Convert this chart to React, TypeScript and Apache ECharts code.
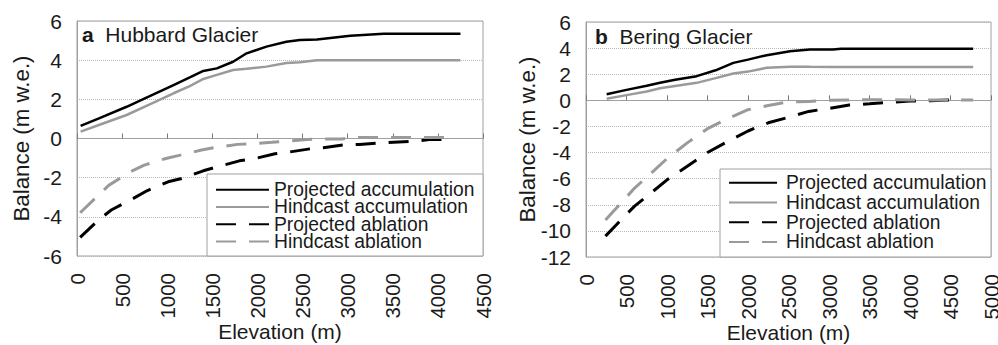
import React, { useEffect, useRef } from "react";
import * as echarts from "echarts";

// ---------- Data ----------
const seriesNames = [
  "Projected accumulation",
  "Hindcast accumulation",
  "Projected ablation",
  "Hindcast ablation",
];

// (a) Hubbard Glacier
const hubbardAccElev = [40, 250, 550, 800, 1070, 1250, 1400, 1550, 1730, 1880, 2100, 2320, 2470, 2660, 3030, 3400, 4250];
const hubbardProjAcc = [0.64, 1.04, 1.62, 2.15, 2.73, 3.12, 3.45, 3.58, 3.92, 4.35, 4.69, 4.94, 5.03, 5.06, 5.25, 5.35, 5.35];
const hubbardHindAcc = [0.35, 0.7, 1.2, 1.73, 2.31, 2.68, 3.04, 3.25, 3.5, 3.56, 3.67, 3.85, 3.89, 3.99, 4.0, 4.0, 4.0];

const hubbardProjAblElev = [35, 230, 380, 625, 775, 1010, 1160, 1400, 1560, 1800, 1955, 2195, 2340, 2580, 2730, 2970, 3130, 3370, 3510, 3755, 3905, 4145];
const hubbardProjAbl = [-5.05, -4.2, -3.65, -3.06, -2.67, -2.21, -2.04, -1.65, -1.44, -1.14, -1.04, -0.78, -0.7, -0.53, -0.47, -0.32, -0.31, -0.22, -0.19, -0.14, -0.05, -0.05];
const hubbardHindAblElev = [35, 220, 355, 590, 745, 985, 1145, 1380, 1540, 1780, 1920, 2160, 2305, 2550, 2700, 2940, 3095, 3340, 3490, 3730, 3880, 4130];
const hubbardHindAbl = [-3.79, -2.97, -2.38, -1.7, -1.36, -1.02, -0.85, -0.59, -0.45, -0.3, -0.27, -0.19, -0.14, -0.05, -0.02, -0.02, 0.05, 0.05, 0.05, 0.05, 0.05, 0.05];

// (b) Bering Glacier
const beringAccElev = [255, 500, 750, 914, 1100, 1367, 1600, 1819, 2000, 2231, 2519, 2765, 3050, 3150, 4780];
const beringProjAcc = [0.46, 0.8, 1.12, 1.34, 1.58, 1.85, 2.3, 2.87, 3.12, 3.46, 3.76, 3.89, 3.9, 3.96, 3.96];
const beringHindAcc = [0.12, 0.4, 0.68, 0.92, 1.1, 1.34, 1.7, 2.05, 2.2, 2.49, 2.58, 2.57, 2.56, 2.56, 2.56];

const beringAblElev = [240, 450, 600, 800, 1000, 1250, 1500, 1750, 2000, 2250, 2500, 2750, 3000, 3250, 3500, 3750, 4000, 4250, 4600, 4780];
const beringProjAbl = [-10.4, -9.04, -8.1, -7.11, -6.09, -5.05, -4.0, -3.15, -2.35, -1.72, -1.3, -0.85, -0.62, -0.36, -0.27, -0.15, -0.05, -0.03, 0.05, null];
const beringHindAbl = [-9.16, -7.75, -6.72, -5.6, -4.46, -3.26, -2.17, -1.39, -0.72, -0.4, -0.12, -0.08, 0, 0.03, 0.05, 0.04, 0.03, 0.03, 0.03, 0.02];

const panelTitles = ["Hubbard Glacier", "Bering Glacier"];
const panelLetters = ["a", "b"];

// ---------- Styles ----------
const FONT = "'Liberation Sans', Arial, sans-serif";
const TXT = "#1a1a1a";
const BLACK = "#000000";
const GRAY = "#9a9a9a";
const BORDER = "#a0a0a0";
const DASH = [20, 13];
const AX_FS = 21;
const YNAME_FS = 22.3;
const TITLE_FS = 21;
const LEG_FS = 19.3;

const pairs = (xs: number[], ys: (number | null)[]) => xs.map((x, i) => [x, ys[i]]);

export default function App() {
  const ref = useRef<HTMLDivElement>(null);
  useEffect(() => {
    document.body.style.margin = "0";
    if (!ref.current) return;
    const chart = echarts.init(ref.current, undefined, { renderer: "svg" });

    const mkX = (gridIndex: number, max: number) => ({
      type: "value",
      gridIndex,
      min: 0,
      max,
      interval: 500,
      name: "Elevation (m)",
      nameLocation: "middle",
      nameGap: 65,
      nameMoveOverlap: false,
      nameTextStyle: { fontSize: AX_FS, color: TXT, fontFamily: FONT },
      axisLine: { show: true, lineStyle: { color: BORDER, width: 1 } },
      axisTick: { show: true, inside: true, length: 5, lineStyle: { color: "#777" } },
      axisLabel: {
        rotate: 90,
        margin: 17,
        fontSize: 20.5,
        color: TXT,
        fontFamily: FONT,
        formatter: (v: number) => String(v),
      },
      splitLine: { show: false },
    });
    const mkY = (gridIndex: number, min: number, nameGap: number) => ({
      type: "value",
      gridIndex,
      min,
      max: 6,
      interval: 2,
      name: "Balance (m w.e.)",
      nameLocation: "middle",
      nameGap,
      nameMoveOverlap: false,
      nameTextStyle: { fontSize: YNAME_FS, color: TXT, fontFamily: FONT },
      axisLine: { show: true, lineStyle: { color: BORDER, width: 1 } },
      axisTick: { show: false },
      axisLabel: { margin: 15, fontSize: AX_FS, color: TXT, fontFamily: FONT, formatter: (v: number) => String(v) },
      splitLine: { show: true, lineStyle: { type: "dotted", color: "#b8b8b8", width: 1 } },
    });

    const mkSeries = (name: string, data: any[], idx: number, color: string, dashed: boolean) => ({
      type: "line",
      name,
      xAxisIndex: idx,
      yAxisIndex: idx,
      data,
      symbol: "none",
      showSymbol: false,
      connectNulls: false,
      z: 2,
      lineStyle: { color, width: dashed ? 3 : 2.5, type: dashed ? DASH : "solid" },
      itemStyle: { color },
    });

    const legendCommon = {
      orient: "vertical",
      padding: 0,
      itemHeight: 12,
      selectedMode: false,
      data: seriesNames,
      itemStyle: { opacity: 0 },
      z: 20,
    };

    const titleStyle = {
      fontSize: TITLE_FS,
      fontWeight: "normal",
      color: TXT,
      fontFamily: FONT,
      rich: { b: { fontWeight: "bold", fontSize: TITLE_FS, color: TXT, fontFamily: FONT } },
    };

    const gridCommon = {
      show: true,
      borderColor: BORDER,
      borderWidth: 1,
      backgroundColor: "transparent",
      containLabel: false,
      outerBoundsMode: "none",
    };

    const option: any = {
      animation: false,
      backgroundColor: "#ffffff",
      title: [
        { text: "{b|" + panelLetters[0] + "}  " + panelTitles[0], left: 82, top: 24, padding: 0, textStyle: titleStyle },
        { text: "{b|" + panelLetters[1] + "}  " + panelTitles[1], left: 595, top: 26, padding: 0, textStyle: titleStyle },
      ],
      grid: [
        { ...gridCommon, left: 77, top: 21, width: 406, height: 235 },
        { ...gridCommon, left: 586, top: 22, width: 405, height: 235 },
      ],
      xAxis: [mkX(0, 4500), mkX(1, 5000)],
      yAxis: [mkY(0, -6, 45), mkY(1, -12, 48)],
      legend: [
        {
          ...legendCommon,
          left: 215,
          top: 180,
          itemWidth: 53,
          itemGap: -2,
          textStyle: { fontSize: LEG_FS, lineHeight: 19.3, color: TXT, fontFamily: FONT },
        },
        {
          ...legendCommon,
          left: 728,
          top: 173,
          itemWidth: 48,
          itemGap: 0,
          textStyle: { fontSize: LEG_FS, lineHeight: 19.7, color: TXT, fontFamily: FONT, padding: [0, 0, 0, 4] },
        },
      ],
      graphic: [
        { type: "rect", z: 10, shape: { x: 207, y: 174, width: 276, height: 82 }, style: { fill: "#fff", stroke: BORDER, lineWidth: 1 } },
        { type: "rect", z: 10, shape: { x: 720, y: 169, width: 271, height: 88 }, style: { fill: "#fff", stroke: BORDER, lineWidth: 1 } },
      ],
      series: [
        mkSeries(seriesNames[0], pairs(hubbardAccElev, hubbardProjAcc), 0, BLACK, false),
        mkSeries(seriesNames[1], pairs(hubbardAccElev, hubbardHindAcc), 0, GRAY, false),
        mkSeries(seriesNames[2], pairs(hubbardProjAblElev, hubbardProjAbl), 0, BLACK, true),
        mkSeries(seriesNames[3], pairs(hubbardHindAblElev, hubbardHindAbl), 0, GRAY, true),
        mkSeries(seriesNames[0], pairs(beringAccElev, beringProjAcc), 1, BLACK, false),
        mkSeries(seriesNames[1], pairs(beringAccElev, beringHindAcc), 1, GRAY, false),
        mkSeries(seriesNames[2], pairs(beringAblElev, beringProjAbl), 1, BLACK, true),
        mkSeries(seriesNames[3], pairs(beringAblElev, beringHindAbl), 1, GRAY, true),
      ],
    };
    chart.setOption(option);
    return () => chart.dispose();
  }, []);

  return <div ref={ref} style={{ width: 998, height: 345 }} />;
}
